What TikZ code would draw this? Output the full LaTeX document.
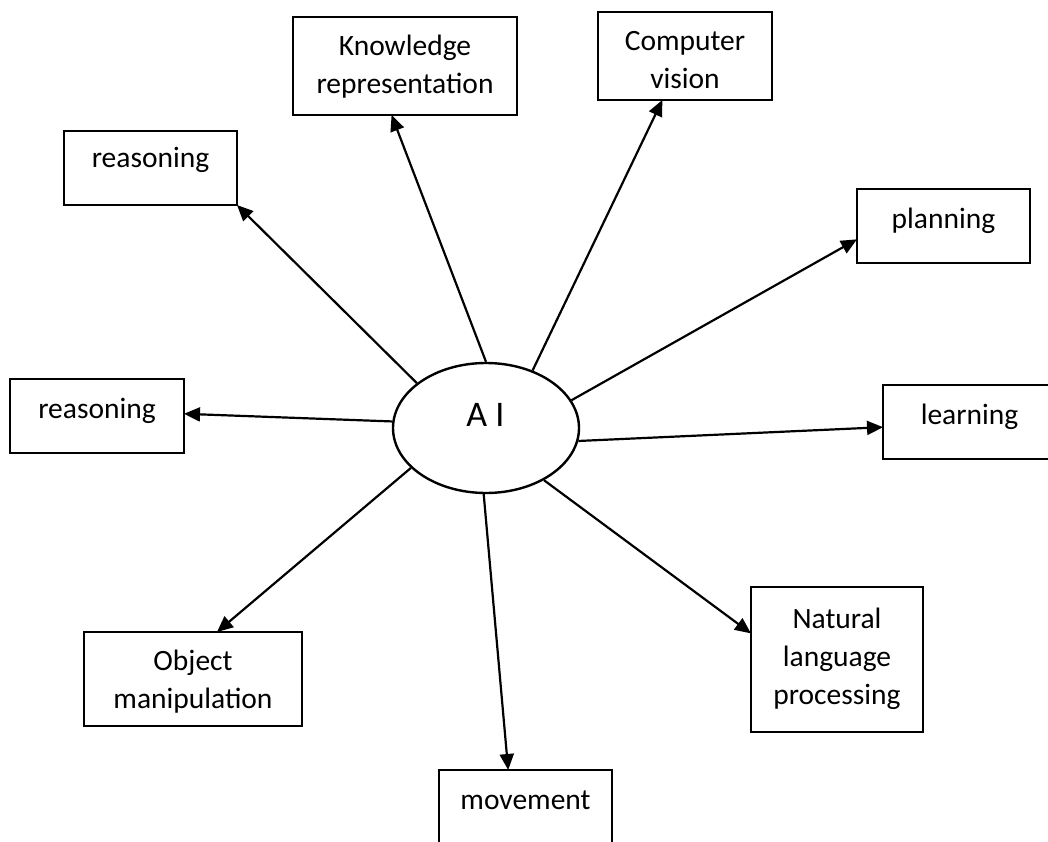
\documentclass[tikz,border=0pt]{standalone}
\usepackage{fontspec}
\setmainfont{Carlito}
\usetikzlibrary{arrows.meta,calc,shapes.geometric}

\begin{document}
\begin{tikzpicture}[x=1pt,y=-1pt,
  box/.style={draw, line width=2.4pt, rectangle, inner sep=0pt, outer sep=0pt},
  lbl/.style={font=\fontsize{29.5}{38}\selectfont, align=center, anchor=base, inner sep=0pt},
  link/.style={line width=2.2pt, -{Triangle[length=16pt,width=14pt]}}]
\useasboundingbox (0,0) rectangle (1048,842);
\clip (0,0) rectangle (1048,842);

% central topic
\node[draw, ellipse, line width=2.4pt, minimum width=186pt, minimum height=130pt, inner sep=0pt] (ai) at (486,428) {};
\node[font=\fontsize{36}{40}\selectfont, anchor=base, inner sep=0pt] (ailbl) at (485.5,426) {A I};

% surrounding boxes
\node[box, minimum width=173pt, minimum height=74pt] (rtop) at (150.5,168) {};
\node[box, minimum width=224pt, minimum height=98pt] (kr) at (405,66) {};
\node[box, minimum width=174pt, minimum height=88pt] (cv) at (685,56) {};
\node[box, minimum width=173pt, minimum height=74pt] (plan) at (943.5,226) {};
\node[box, minimum width=173pt, minimum height=74pt] (learn) at (969.5,422) {};
\node[box, minimum width=174pt, minimum height=74pt] (rleft) at (97,416) {};
\node[box, minimum width=218pt, minimum height=94pt] (obj) at (193,679) {};
\node[box, minimum width=173pt, minimum height=80pt] (mov) at (525.5,810) {};
\node[box, minimum width=172pt, minimum height=145pt] (nlp) at (837,659.5) {};

% box texts (base anchor sits on the last line)
\node[lbl] (trtop) at ([yshift=-37pt]rtop.north) {reasoning};
\node[lbl] (tkr) at ([yshift=-77pt]kr.north) {Knowledge\\representation};
\node[lbl] (tcv) at ([yshift=-77pt]cv.north) {Computer\\vision};
\node[lbl] (tplan) at ([yshift=-40pt]plan.north) {planning};
\node[lbl] (tlearn) at ([yshift=-39pt]learn.north) {learning};
\node[lbl] (trleft) at ([yshift=-39pt]rleft.north) {reasoning};
\node[lbl] (tobj) at ([yshift=-76pt]obj.north) {Object\\manipulation};
\node[lbl] (tmov) at ([yshift=-39pt]mov.north) {movement};
\node[lbl] (tnlp) at ([yshift=-117pt]nlp.north) {Natural\\language\\processing};

% connectors
\draw[link] (ai.147.3) -- (rtop.south east);
\draw[link] (ai.90) -- ($(kr.south west)!0.44!(kr.south east)$);
\draw[link] (ai.51.1) -- ($(cv.south west)!0.37!(cv.south east)$);
\draw[link] (ai.18.8) -- ($(plan.north west)!0.68!(plan.south west)$);
\draw[link] (ai.-8) -- ($(learn.north west)!0.57!(learn.south west)$);
\draw[link] (ai.-42.9) -- ($(nlp.north west)!0.32!(nlp.south west)$);
\draw[link] (ai.-92.6) -- ($(mov.north west)!0.40!(mov.north east)$);
\draw[link] (ai.208.4) -- ($(obj.north west)!0.61!(obj.north east)$);
\draw[link] (ai.176.3) -- ($(rleft.north east)!0.47!(rleft.south east)$);
\end{tikzpicture}
\end{document}
